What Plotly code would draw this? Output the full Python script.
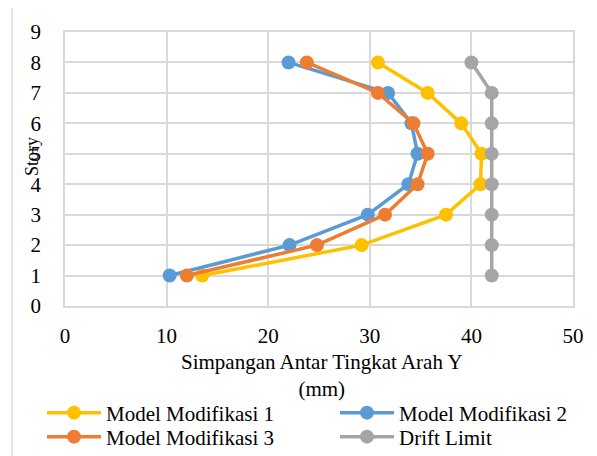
import plotly.graph_objects as go

stories = [1, 2, 3, 4, 5, 6, 7, 8]
model1 = [13.5, 29.2, 37.5, 40.9, 41.0, 39.0, 35.7, 30.8]
model2 = [10.3, 22.1, 29.8, 33.8, 34.7, 34.1, 31.8, 22.0]
model3 = [12.0, 24.8, 31.5, 34.7, 35.7, 34.3, 30.8, 23.8]
drift = [42, 42, 42, 42, 42, 42, 42, 40]

names = ["Model Modifikasi 1", "Model Modifikasi 2", "Model Modifikasi 3", "Drift Limit"]
colors = ["#FFC000", "#5B9BD5", "#ED7D31", "#A5A5A5"]
series = [model1, model2, model3, drift]
legend_ids = ["legend", "legend2", "legend3", "legend4"]

FONT = "Liberation Serif, Times New Roman, serif"

W, H = 589, 448  # page adds ~8px body margin
OFF = 8

fig = go.Figure()
for n, c, s, lg in zip(names, colors, series, legend_ids):
    fig.add_trace(go.Scatter(
        x=s, y=stories, name=n, mode="lines+markers",
        line=dict(color=c, width=3.5),
        marker=dict(color=c, size=14),
        cliponaxis=False, legend=lg,
    ))


def leg(px, py):
    return dict(
        orientation="v", xref="container", yref="container",
        xanchor="left", yanchor="middle",
        x=(px - OFF) / W, y=1 - (py - OFF) / H,
        itemwidth=54, tracegroupgap=0,
        font=dict(family=FONT, size=21, color="black"),
        bgcolor="rgba(0,0,0,0)",
    )


fig.update_layout(
    width=W, height=H,
    margin=dict(l=57, r=24, t=24, b=150, autoexpand=False),
    paper_bgcolor="white", plot_bgcolor="white",
    font=dict(family=FONT, color="black"),
    showlegend=True,
    legend=leg(42, 413),
    legend2=leg(335, 413),
    legend3=leg(42, 437),
    legend4=leg(335, 437),
    xaxis=dict(
        range=[0, 50], dtick=10, tick0=0,
        showgrid=True, gridcolor="#D9D9D9", gridwidth=1.5,
        showline=True, mirror=True, linecolor="#D9D9D9", linewidth=1.5,
        zeroline=False, ticks="",
        tickfont=dict(family=FONT, size=21, color="black"),
        ticklabelstandoff=10,
    ),
    yaxis=dict(
        range=[0, 9], dtick=1, tick0=0,
        showgrid=True, gridcolor="#D9D9D9", gridwidth=1.5,
        showline=True, mirror=True, linecolor="#D9D9D9", linewidth=1.5,
        zeroline=False, ticks="",
        tickfont=dict(family=FONT, size=21, color="black"),
        ticklabelstandoff=18,
    ),
    shapes=[dict(
        type="rect", xref="paper", yref="paper",
        x0=-0.104, x1=1.08, y0=-0.6, y1=1.091,
        line=dict(color="#D9D9D9", width=1.5), fillcolor="rgba(0,0,0,0)",
        layer="below",
    )],
    annotations=[
        dict(text="Simpangan Antar Tingkat Arah Y<br>(mm)", xref="paper", yref="paper",
             x=(322 - 65) / 508, y=(306 - 375) / 274, xanchor="center", yanchor="middle",
             showarrow=False, align="center",
             font=dict(family=FONT, size=21, color="black")),
        dict(text="Story", xref="paper", yref="paper",
             x=(32 - 65) / 508, y=(306 - 157) / 274, xanchor="center", yanchor="middle",
             textangle=-90, showarrow=False,
             font=dict(family=FONT, size=18, color="black")),
    ],
)

fig.write_html("out.html")
